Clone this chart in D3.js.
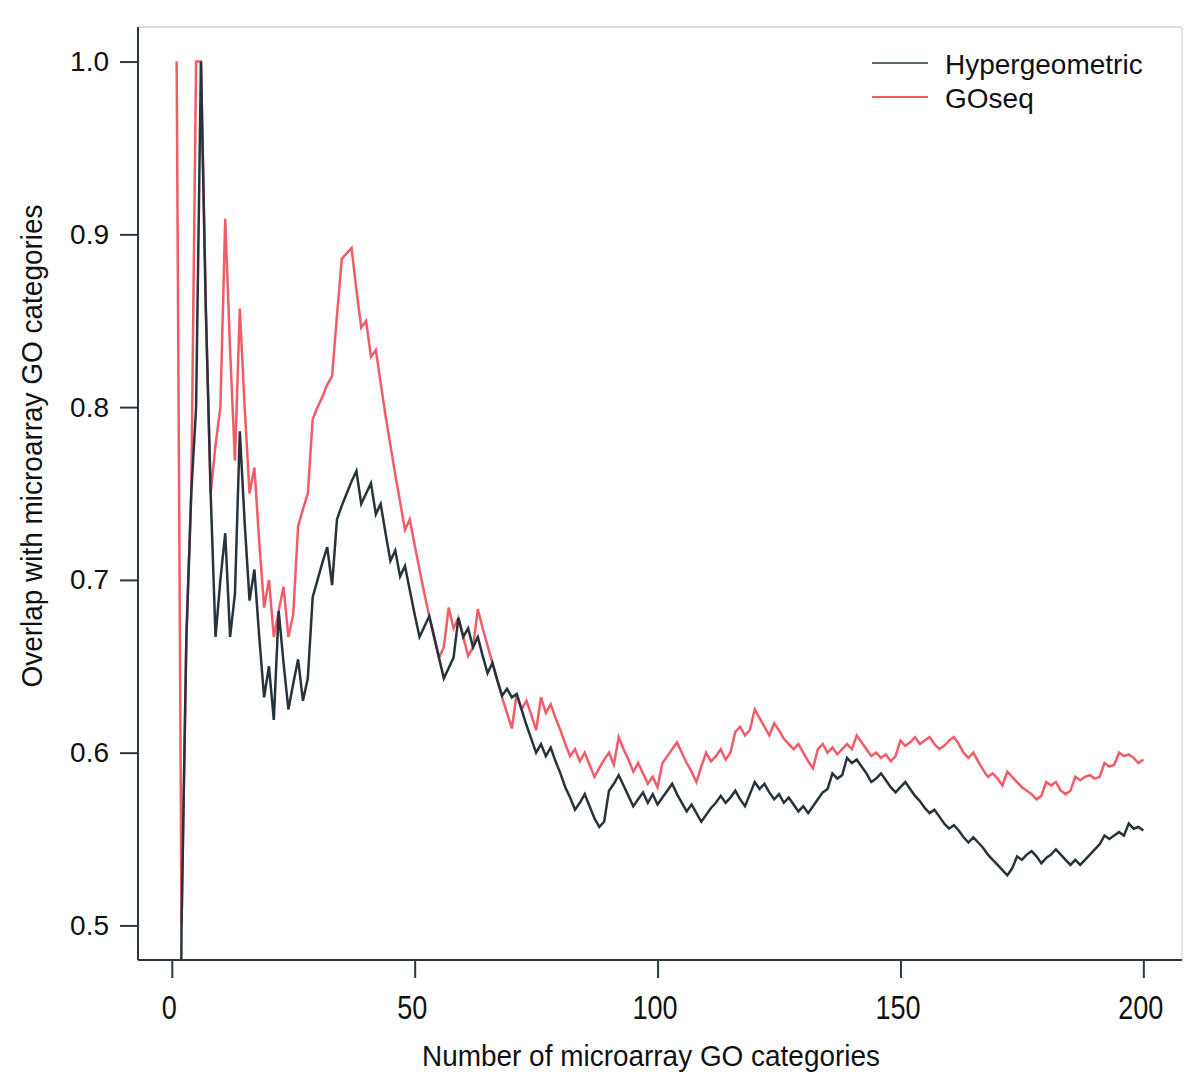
<!DOCTYPE html>
<html>
<head>
<meta charset="utf-8">
<script src="https://cdn.jsdelivr.net/npm/d3@7"></script>
<style>
  html, body { margin: 0; padding: 0; background: #ffffff; }
  svg { display: block; font-family: "Liberation Sans", Arial, Helvetica, sans-serif; }
</style>
</head>
<body>
<svg id="chart" width="1200" height="1080"></svg>
<script>
// ---------------- data ----------------
const seriesNames = ["Hypergeometric", "GOseq"];
const xLabel = "Number of microarray GO categories";
const yLabel = "Overlap with microarray GO categories";
const xTicks = [0, 50, 100, 150, 200];
const yTicks = [0.5, 0.6, 0.7, 0.8, 0.9, 1.0];
const nCategories = d3.range(1, 201);

const hypergeometric = [
  0, 0.5, 0.667, 0.75, 0.8, 1.0, 0.857, 0.75, 0.667, 0.7,
  0.727, 0.667, 0.692, 0.786, 0.733, 0.688, 0.706, 0.667, 0.632, 0.65,
  0.619, 0.682, 0.652, 0.625, 0.64, 0.654, 0.63, 0.643, 0.69, 0.7,
  0.71, 0.719, 0.697, 0.735, 0.743, 0.75, 0.757, 0.763, 0.744, 0.75,
  0.756, 0.738, 0.744, 0.727, 0.711, 0.717, 0.702, 0.708, 0.694, 0.68,
  0.667, 0.673, 0.679, 0.667, 0.655, 0.643, 0.649, 0.655, 0.678, 0.667,
  0.672, 0.661, 0.667, 0.656, 0.646, 0.652, 0.642, 0.633, 0.637, 0.632,
  0.634, 0.625, 0.616, 0.608, 0.6, 0.605, 0.598, 0.603, 0.595, 0.588,
  0.58, 0.574, 0.567, 0.571, 0.576, 0.569, 0.562, 0.557, 0.56, 0.578,
  0.582, 0.587, 0.581, 0.575, 0.569, 0.573, 0.577, 0.571, 0.576, 0.57,
  0.574, 0.578, 0.582, 0.576, 0.571, 0.566, 0.57, 0.565, 0.56, 0.564,
  0.568, 0.571, 0.575, 0.571, 0.574, 0.578, 0.573, 0.569, 0.576, 0.583,
  0.579, 0.582, 0.577, 0.573, 0.576, 0.571, 0.574, 0.57, 0.566, 0.569,
  0.565, 0.569, 0.573, 0.577, 0.579, 0.588, 0.585, 0.587, 0.597, 0.594,
  0.596, 0.592, 0.588, 0.583, 0.585, 0.588, 0.584, 0.58, 0.577, 0.58,
  0.583, 0.579, 0.575, 0.572, 0.568, 0.565, 0.567, 0.563, 0.559, 0.556,
  0.558, 0.555, 0.551, 0.548, 0.551, 0.548, 0.545, 0.541, 0.538, 0.535,
  0.532, 0.529, 0.533, 0.54, 0.538, 0.541, 0.543, 0.54, 0.536, 0.539,
  0.541, 0.544, 0.541, 0.538, 0.535, 0.538, 0.535, 0.538, 0.541, 0.544,
  0.547, 0.552, 0.55, 0.552, 0.554, 0.552, 0.559, 0.556, 0.557, 0.555
];

const goseq = [
  1.0, 0.5, 0.667, 0.75, 1.0, 1.0, 0.857, 0.75, 0.778, 0.8,
  0.909, 0.833, 0.769, 0.857, 0.8, 0.75, 0.765, 0.722, 0.684, 0.7,
  0.667, 0.682, 0.696, 0.667, 0.68, 0.731, 0.741, 0.75, 0.793, 0.8,
  0.806, 0.813, 0.818, 0.853, 0.886, 0.889, 0.892, 0.868, 0.846, 0.85,
  0.829, 0.833, 0.814, 0.795, 0.778, 0.761, 0.745, 0.729, 0.735, 0.72,
  0.706, 0.692, 0.679, 0.667, 0.655, 0.661, 0.684, 0.672, 0.678, 0.667,
  0.656, 0.661, 0.683, 0.672, 0.662, 0.652, 0.642, 0.632, 0.623, 0.614,
  0.634, 0.625, 0.63, 0.622, 0.613, 0.632, 0.623, 0.628, 0.62, 0.613,
  0.605, 0.598, 0.602, 0.595, 0.6, 0.593, 0.586, 0.591, 0.596, 0.6,
  0.593, 0.609, 0.602, 0.596, 0.589, 0.594, 0.588, 0.582, 0.586, 0.58,
  0.594, 0.598, 0.602, 0.606, 0.6, 0.594, 0.589, 0.583, 0.592, 0.6,
  0.595, 0.598, 0.602, 0.596, 0.6, 0.612, 0.615, 0.61, 0.613, 0.625,
  0.62, 0.615, 0.61, 0.617, 0.613, 0.608, 0.605, 0.602, 0.605, 0.6,
  0.595, 0.591, 0.602, 0.605, 0.6, 0.603, 0.599, 0.602, 0.605, 0.602,
  0.61, 0.606, 0.602, 0.598, 0.6, 0.597, 0.599, 0.595, 0.598, 0.607,
  0.604, 0.606, 0.609, 0.605, 0.607, 0.609, 0.605, 0.602, 0.604, 0.607,
  0.609, 0.605, 0.6, 0.597, 0.6, 0.595, 0.59, 0.586, 0.588, 0.585,
  0.581, 0.589, 0.586, 0.583, 0.58, 0.578, 0.576, 0.573, 0.575, 0.583,
  0.581, 0.583, 0.578, 0.576, 0.578, 0.586, 0.584, 0.586, 0.587, 0.585,
  0.586, 0.594, 0.592, 0.593, 0.6, 0.598, 0.599, 0.597, 0.594, 0.596
];

const seriesColors = ["#26333b", "#f05c68"];
const legendColors = ["#56666e", "#f05c68"];

// ---------------- layout ----------------
const plot = { left: 138, right: 1182, top: 27, bottom: 960 };
const xPad = 0.04 * (200 - 1);
const x = d3.scaleLinear().domain([1 - xPad, 200 + xPad]).range([plot.left, plot.right]);
const y = d3.scaleLinear().domain([0.48, 1.02]).range([plot.bottom, plot.top]);

const svg = d3.select("#chart");
const axisColor = "#2b3840";

svg.append("defs").append("clipPath").attr("id", "plotclip")
  .append("rect")
  .attr("x", plot.left).attr("y", plot.top)
  .attr("width", plot.right - plot.left).attr("height", plot.bottom - plot.top);

// faint top/right frame
svg.append("line").attr("x1", plot.left).attr("x2", plot.right).attr("y1", plot.top).attr("y2", plot.top)
  .attr("stroke", "#d9dcde").attr("stroke-width", 2);
svg.append("line").attr("x1", plot.right).attr("x2", plot.right).attr("y1", plot.top).attr("y2", plot.bottom)
  .attr("stroke", "#e4e6e8").attr("stroke-width", 2);

// lines
const lineGen = d3.line().x((d, i) => x(nCategories[i])).y(d => y(d));
const gLines = svg.append("g").attr("clip-path", "url(#plotclip)");
[hypergeometric, goseq].forEach((vals, si) => {
  gLines.append("path")
    .datum(vals)
    .attr("d", lineGen)
    .attr("fill", "none")
    .attr("stroke", seriesColors[si])
    .attr("stroke-width", 2.5)
    .attr("stroke-linejoin", "miter");
});
gLines.select("path").raise();

// y axis
const yAxis = d3.axisLeft(y).tickValues(yTicks).tickSize(18).tickPadding(11).tickFormat(d3.format(".1f"));
const gy = svg.append("g").attr("transform", `translate(${plot.left},0)`).call(yAxis);
gy.select(".domain").remove();
gy.selectAll(".tick line").attr("stroke", axisColor).attr("stroke-width", 2);
gy.selectAll(".tick text").attr("fill", "#111").style("font-size", "28px");

// x axis
const xAxis = d3.axisBottom(x).tickValues(xTicks).tickSize(18).tickFormat(d3.format("d"));
const gx = svg.append("g").attr("transform", `translate(0,${plot.bottom})`).call(xAxis);
gx.select(".domain").remove();
gx.selectAll(".tick line").attr("stroke", axisColor).attr("stroke-width", 2);
gx.selectAll(".tick text").remove();
gx.selectAll(".tick").append("text")
  .attr("fill", "#111")
  .attr("text-anchor", "middle")
  .attr("transform", "translate(-3,59) scale(0.82,1)")
  .style("font-size", "33px")
  .text(d => d3.format("d")(d));

// left / bottom frame lines
svg.append("line").attr("x1", plot.left).attr("x2", plot.left).attr("y1", plot.top).attr("y2", plot.bottom)
  .attr("stroke", axisColor).attr("stroke-width", 2);
svg.append("line").attr("x1", plot.left).attr("x2", plot.right).attr("y1", plot.bottom).attr("y2", plot.bottom)
  .attr("stroke", axisColor).attr("stroke-width", 2);

// axis titles
svg.append("text")
  .attr("x", 651).attr("y", 1066)
  .attr("text-anchor", "middle")
  .attr("textLength", 458).attr("lengthAdjust", "spacingAndGlyphs")
  .attr("fill", "#111").style("font-size", "29px")
  .text(xLabel);

svg.append("text")
  .attr("transform", "translate(42,446) rotate(-90)")
  .attr("text-anchor", "middle")
  .attr("textLength", 483).attr("lengthAdjust", "spacingAndGlyphs")
  .attr("fill", "#111").style("font-size", "29px")
  .text(yLabel);

// legend
const legend = svg.append("g");
seriesNames.forEach((name, i) => {
  const ly = 63 + i * 34;
  legend.append("line").attr("x1", 872).attr("x2", 928).attr("y1", ly).attr("y2", ly)
    .attr("stroke", legendColors[i]).attr("stroke-width", 2.2);
  legend.append("text").attr("x", 945).attr("y", ly + 11)
    .attr("fill", "#111").style("font-size", "28px").text(name);
});
</script>
</body>
</html>
